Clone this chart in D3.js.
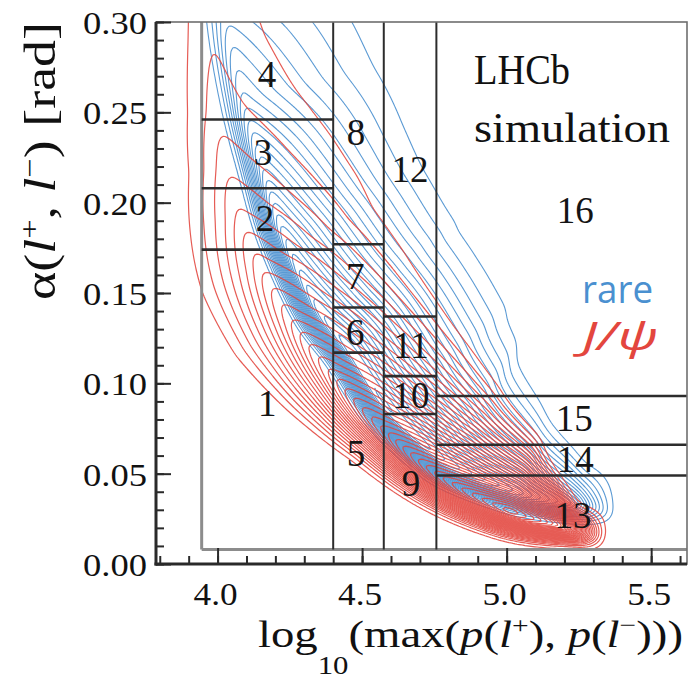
<!DOCTYPE html>
<html>
<head>
<meta charset="utf-8">
<script src="https://cdn.jsdelivr.net/npm/d3@7"></script>
<style>
  body { margin: 0; background: #fff; }
</style>
</head>
<body>
<svg id="chart" width="693" height="678" font-family="'Liberation Serif', 'Times New Roman', serif"></svg>
<script>
// ---- axes ----
const xDomain = [3.787, 5.624];
const yDomain = [0, 0.30];
const xMajorTicks = [4.0, 4.5, 5.0, 5.5];
const xTickLabels = ["4.0", "4.5", "5.0", "5.5"];
const yMajorTicks = [0.00, 0.05, 0.10, 0.15, 0.20, 0.25, 0.30];
const yTickLabels = ["0.00", "0.05", "0.10", "0.15", "0.20", "0.25", "0.30"];

// ---- binning scheme: column edges in log10(p), row edges in alpha per column ----
const binColumnEdges = [3.945, 4.4, 4.575, 4.757, 5.624];
const binRowEdges = [
  [0.008, 0.174, 0.208, 0.246, 0.30],
  [0.008, 0.117, 0.142, 0.177, 0.30],
  [0.008, 0.083, 0.104, 0.137, 0.30],
  [0.008, 0.049, 0.066, 0.093, 0.30]
];
const binNumbers = [1, 2, 3, 4, 5, 6, 7, 8, 9, 10, 11, 12, 13, 14, 15, 16];
const binLabelX = [4.172, 4.164, 4.157, 4.171, 4.479, 4.476, 4.476, 4.479,
                   4.669, 4.669, 4.669, 4.666, 5.230, 5.237, 5.234, 5.237];
const binLabelY = [0.0891, 0.191, 0.2275, 0.2707, 0.0614, 0.1284, 0.1589, 0.2391,
                   0.0443, 0.0930, 0.1207, 0.2181, 0.0271, 0.0581, 0.0808, 0.1959];

// ---- J/psi sample density: ridge of the distribution, relative height,
//      and half-widths (in rad) below / above the ridge ----
const jpsiRidgeX = [3.956, 3.974, 3.994, 4.026, 4.071, 4.140, 4.250, 4.389, 4.562, 4.769, 5.012, 5.213];
const jpsiRidgeY = [0.3288, 0.2900, 0.2513, 0.2208, 0.1932, 0.1655, 0.1351, 0.1046, 0.0742, 0.0465, 0.0271, 0.0188];
const jpsiPeak   = [0.03, 0.045, 0.06, 0.09, 0.13, 0.19, 0.28, 0.40, 0.56, 0.78, 1.00, 0.85];
const jpsiWidthLow  = [0.029, 0.029, 0.030, 0.032, 0.039, 0.044, 0.043, 0.035, 0.025, 0.019, 0.014, 0.0085];
const jpsiWidthHigh = [0.070, 0.0725, 0.094, 0.098, 0.097, 0.091, 0.0885, 0.083, 0.076, 0.066, 0.049, 0.016];
const jpsiWidthEnd = 0.0216;

// ---- rare-mode sample density ----
const rareRidgeX = [3.999, 4.020, 4.075, 4.141, 4.214, 4.331, 4.442, 4.570, 4.719, 4.826, 5.040, 5.240];
const rareRidgeY = [0.3288, 0.3000, 0.2568, 0.2197, 0.1815, 0.1411, 0.1173, 0.0858, 0.0620, 0.0504, 0.0371, 0.0310];
const rarePeak   = [0.12, 0.17, 0.30, 0.50, 0.72, 0.90, 0.98, 1.00, 0.97, 0.90, 0.75, 0.50];
const rareWidthLow  = [0.0125, 0.0125, 0.0125, 0.0125, 0.0125, 0.0125, 0.0125, 0.0120, 0.0115, 0.0110, 0.0100, 0.0085];
const rareWidthHigh = [0.132, 0.112, 0.112, 0.110, 0.111, 0.113, 0.108, 0.106, 0.095, 0.090, 0.063, 0.033];
const rareWidthEnd = 0.0240;

const jpsiLevels = d3.range(0.02, 1.0, 0.025);
const rareLevels = d3.range(0.03, 1.0, 0.034);

// ---- layout ----
const plotLeft = 156, plotRight = 687, plotTop = 22, plotBottom = 564;
const x = d3.scaleLinear().domain(xDomain).range([plotLeft, plotRight]);
const y = d3.scaleLinear().domain(yDomain).range([plotBottom, plotTop]);
const pxPerRad = y(0) - y(1);

const svg = d3.select("#chart");
svg.append("defs").append("clipPath").attr("id", "plot-clip")
  .append("rect").attr("x", plotLeft).attr("y", plotTop)
  .attr("width", plotRight - plotLeft).attr("height", plotBottom - plotTop);

// Smooth ridge through the stations (Catmull-Rom), keeping the station index as parameter.
function ridgePath(px, py, steps) {
  const n = px.length, out = [];
  const P = i => [px[Math.max(0, Math.min(n - 1, i))], py[Math.max(0, Math.min(n - 1, i))]];
  for (let i = 0; i < n - 1; i++) {
    const p0 = P(i - 1), p1 = P(i), p2 = P(i + 1), p3 = P(i + 2);
    for (let m = 0; m < steps; m++) {
      const t = m / steps, t2 = t * t, t3 = t2 * t;
      const c = k => 0.5 * (2 * p1[k] + (-p0[k] + p2[k]) * t +
        (2 * p0[k] - 5 * p1[k] + 4 * p2[k] - p3[k]) * t2 +
        (-p0[k] + 3 * p1[k] - 3 * p2[k] + p3[k]) * t3);
      out.push({ x: c(0), y: c(1), s: i + t });
    }
  }
  out.push({ x: px[n - 1], y: py[n - 1], s: n - 1 });
  return out;
}

// Density on a pixel grid: height along the ridge, falling off across it
// with separate widths and shapes on each side.
function densityGrid(ridgeX, ridgeY, peak, wLow, wHigh, wEnd, kLow, kHigh) {
  const cell = 2, gx0 = plotLeft, gy0 = 0;
  const nx = Math.ceil((plotRight - gx0) / cell);
  const ny = Math.ceil((plotBottom - gy0) / cell);
  const pts = ridgePath(ridgeX.map(v => x(v)), ridgeY.map(v => y(v)), 8);
  const segs = [];
  for (let i = 0; i < pts.length - 1; i++) {
    const a = pts[i], b = pts[i + 1];
    const dx = b.x - a.x, dy = b.y - a.y;
    segs.push({ ax: a.x, ay: a.y, dx, dy, L: Math.hypot(dx, dy), s0: a.s, s1: b.s });
  }
  const last = segs.length - 1;
  const lerp = (arr, s) => {
    const i = Math.min(Math.floor(s), arr.length - 2), t = s - i;
    return arr[i] * (1 - t) + arr[i + 1] * t;
  };
  const prof = (u, k) => (u >= 1 ? 0 : Math.pow(1 - u, k));
  const values = new Float64Array(nx * ny);
  for (let j = 0; j < ny; j++) {
    const py = gy0 + (j + 0.5) * cell;
    for (let i = 0; i < nx; i++) {
      const px = gx0 + (i + 0.5) * cell;
      let best = Infinity, bi = 0, bt = 0, bRaw = 0, bCross = 0;
      for (let s = 0; s < segs.length; s++) {
        const g = segs[s];
        const raw = ((px - g.ax) * g.dx + (py - g.ay) * g.dy) / (g.L * g.L);
        const t = Math.max(0, Math.min(1, raw));
        const d = Math.hypot(px - (g.ax + t * g.dx), py - (g.ay + t * g.dy));
        if (d < best) {
          best = d; bi = s; bt = t; bRaw = raw;
          bCross = (g.dx * (py - g.ay) - g.dy * (px - g.ax)) / g.L;
        }
      }
      const g = segs[bi];
      const sp = g.s0 + bt * (g.s1 - g.s0);
      const pk = lerp(peak, sp);
      const high = bCross < 0;
      const w = (high ? lerp(wHigh, sp) : lerp(wLow, sp)) * pxPerRad;
      const k = high ? kHigh : kLow;
      let v;
      if (bi === last && bRaw > 1) {
        const along = (bRaw - 1) * g.L;
        v = pk * prof(Math.abs(bCross) / w, k) * prof(along / (wEnd * pxPerRad), 1.5);
      } else {
        v = pk * prof(best / w, k);
      }
      values[j * nx + i] = v;
    }
  }
  if (d3.blur2) d3.blur2({ data: values, width: nx, height: ny }, 2);
  return { values, nx, ny, cell, gx0, gy0 };
}

function drawContours(layer, grid, levels, color, width) {
  const gen = d3.contours().size([grid.nx, grid.ny]).thresholds(levels);
  const path = d3.geoPath(d3.geoIdentity().scale(grid.cell).translate([grid.gx0, grid.gy0]));
  layer.selectAll(null)
    .data(gen(grid.values))
    .join("path")
    .attr("d", path)
    .attr("fill", "none")
    .attr("stroke", color)
    .attr("stroke-width", width)
    .attr("stroke-linejoin", "round");
}

const contourLayer = svg.append("g").attr("clip-path", "url(#plot-clip)");
const rareGrid = densityGrid(rareRidgeX, rareRidgeY, rarePeak, rareWidthLow, rareWidthHigh, rareWidthEnd, 1.5, 2.0);
const jpsiGrid = densityGrid(jpsiRidgeX, jpsiRidgeY, jpsiPeak, jpsiWidthLow, jpsiWidthHigh, jpsiWidthEnd, 1.5, 1.5);
drawContours(contourLayer.append("g").attr("opacity", 0.9), rareGrid, rareLevels, "#4a90d0", 1.1);
drawContours(contourLayer.append("g").attr("opacity", 0.88), jpsiGrid, jpsiLevels, "#e3463e", 1.2);

// ---- bin boundaries ----
const bins = svg.append("g").attr("fill", "none");
const yBinBottom = binRowEdges[0][0];
bins.append("line")
  .attr("x1", x(binColumnEdges[0])).attr("x2", x(binColumnEdges[0]))
  .attr("y1", y(yBinBottom)).attr("y2", plotTop)
  .attr("stroke", "#8c8c8c").attr("stroke-width", 3);
bins.append("line")
  .attr("x1", x(binColumnEdges[0])).attr("x2", plotRight)
  .attr("y1", y(yBinBottom)).attr("y2", y(yBinBottom))
  .attr("stroke", "#8c8c8c").attr("stroke-width", 3);
bins.selectAll(".vcut")
  .data(binColumnEdges.slice(1, -1))
  .join("line")
  .attr("x1", d => x(d)).attr("x2", d => x(d))
  .attr("y1", y(yBinBottom)).attr("y2", plotTop)
  .attr("stroke", "#2c2c2c").attr("stroke-width", 2);
binRowEdges.forEach((rows, c) => {
  bins.selectAll(null)
    .data(rows.slice(1, -1))
    .join("line")
    .attr("x1", x(binColumnEdges[c])).attr("x2", x(binColumnEdges[c + 1]))
    .attr("y1", d => y(d)).attr("y2", d => y(d))
    .attr("stroke", "#2c2c2c").attr("stroke-width", 2.6);
});

// ---- frame and axes ----
svg.append("rect")
  .attr("x", plotLeft).attr("y", plotTop)
  .attr("width", plotRight - plotLeft).attr("height", plotBottom - plotTop)
  .attr("fill", "none").attr("stroke", "#6e6e6e").attr("stroke-width", 1.6);

const axisColor = "#2a2a2a";
function ticks(gen, tx, ty) {
  const g = svg.append("g").attr("transform", `translate(${tx},${ty})`).call(gen);
  g.select(".domain").remove();
  g.selectAll("line").attr("stroke", axisColor).attr("stroke-width", 2);
  g.selectAll("text").remove();
}
ticks(d3.axisRight(y).tickValues(d3.range(0, 0.3001, 0.01)).tickSize(8).tickSizeOuter(0), plotLeft, 0);
ticks(d3.axisRight(y).tickValues(yMajorTicks).tickSize(15).tickSizeOuter(0), plotLeft, 0);
ticks(d3.axisTop(x).tickValues(d3.range(3.8, 5.6001, 0.1)).tickSize(8).tickSizeOuter(0), 0, plotBottom);
ticks(d3.axisTop(x).tickValues(xMajorTicks).tickSize(16).tickSizeOuter(0), 0, plotBottom);

svg.append("line").attr("x1", plotLeft).attr("x2", plotLeft)
  .attr("y1", plotTop).attr("y2", plotBottom + 1.5)
  .attr("stroke", axisColor).attr("stroke-width", 3);
svg.append("line").attr("x1", plotLeft - 1.5).attr("x2", plotRight)
  .attr("y1", plotBottom).attr("y2", plotBottom)
  .attr("stroke", axisColor).attr("stroke-width", 3);

svg.append("g").selectAll("text")
  .data(yMajorTicks)
  .join("text")
  .attr("x", 147).attr("y", d => y(d) + 12)
  .attr("text-anchor", "end")
  .attr("font-size", 31).attr("fill", "#111")
  .attr("textLength", 64).attr("lengthAdjust", "spacingAndGlyphs")
  .text((d, i) => yTickLabels[i]);

svg.append("g").selectAll("text")
  .data(xMajorTicks)
  .join("text")
  .attr("x", d => x(d) - 2).attr("y", 605)
  .attr("text-anchor", "middle")
  .attr("font-size", 31).attr("fill", "#111")
  .attr("textLength", 44).attr("lengthAdjust", "spacingAndGlyphs")
  .text((d, i) => xTickLabels[i]);

// axis titles
const xTitle = svg.append("text")
  .attr("x", 258).attr("y", 647)
  .attr("font-size", 38).attr("fill", "#111")
  .attr("textLength", 425).attr("lengthAdjust", "spacingAndGlyphs");
xTitle.append("tspan").text("log");
xTitle.append("tspan").attr("dy", 27).attr("font-size", 25).text("10");
xTitle.append("tspan").attr("dy", -27).text("(max(");
xTitle.append("tspan").attr("font-style", "italic").text("p");
xTitle.append("tspan").text("(");
xTitle.append("tspan").attr("font-style", "italic").text("l");
xTitle.append("tspan").attr("dy", -14).attr("font-size", 24).text("+");
xTitle.append("tspan").attr("dy", 14).text("), ");
xTitle.append("tspan").attr("font-style", "italic").text("p");
xTitle.append("tspan").text("(");
xTitle.append("tspan").attr("font-style", "italic").text("l");
xTitle.append("tspan").attr("dy", -14).attr("font-size", 24).text("\u2212");
xTitle.append("tspan").attr("dy", 14).text(")))");

const yTitle = svg.append("text")
  .attr("transform", "translate(55,161) rotate(-90)")
  .attr("text-anchor", "middle")
  .attr("font-size", 44).attr("fill", "#111")
  .attr("textLength", 278).attr("lengthAdjust", "spacingAndGlyphs");
yTitle.append("tspan").text("\u03b1(");
yTitle.append("tspan").attr("font-style", "italic").text("l");
yTitle.append("tspan").attr("dy", -16).attr("font-size", 28).text("+");
yTitle.append("tspan").attr("dy", 16).text(", ");
yTitle.append("tspan").attr("font-style", "italic").text("l");
yTitle.append("tspan").attr("dy", -16).attr("font-size", 28).text("\u2212");
yTitle.append("tspan").attr("dy", 16).text(") [rad]");

// bin numbers
svg.append("g").selectAll("text")
  .data(binNumbers)
  .join("text")
  .attr("x", (d, i) => x(binLabelX[i]))
  .attr("y", (d, i) => y(binLabelY[i]) + 12.5)
  .attr("text-anchor", "middle")
  .attr("font-size", 37).attr("fill", "#141414")
  .text(d => d);

// annotations
svg.append("text").attr("x", 474).attr("y", 84)
  .attr("font-size", 42).attr("fill", "#111")
  .attr("textLength", 96).attr("lengthAdjust", "spacingAndGlyphs")
  .text("LHCb");
svg.append("text").attr("x", 474).attr("y", 142)
  .attr("font-size", 43).attr("fill", "#111")
  .attr("textLength", 196).attr("lengthAdjust", "spacingAndGlyphs")
  .text("simulation");
svg.append("text").attr("x", 582).attr("y", 303)
  .attr("font-family", "'Open Sans', 'DejaVu Sans', sans-serif")
  .attr("font-size", 38).attr("fill", "#4a90d0")
  .attr("textLength", 71).attr("lengthAdjust", "spacingAndGlyphs")
  .text("rare");
svg.append("text").attr("x", 582).attr("y", 350)
  .attr("font-family", "'Open Sans', 'DejaVu Sans', sans-serif")
  .attr("font-style", "italic")
  .attr("font-size", 38).attr("fill", "#e3463e")
  .attr("textLength", 76).attr("lengthAdjust", "spacingAndGlyphs")
  .text("J/\u03c8");
</script>
</body>
</html>
